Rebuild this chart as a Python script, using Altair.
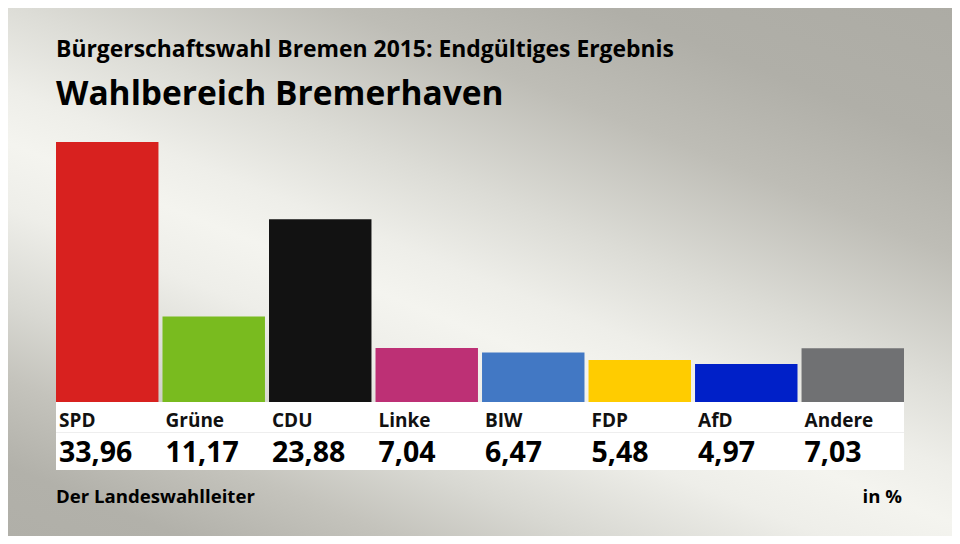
import altair as alt
import pandas as pd

parties = ["SPD", "Grüne", "CDU", "Linke", "BIW", "FDP", "AfD", "Andere"]
shares = [33.96, 11.17, 23.88, 7.04, 6.47, 5.48, 4.97, 7.03]
colors = ["#d8211f", "#79bb1f", "#121212", "#bd3075", "#4278c4", "#ffcc00", "#0020c8", "#707173"]
labels = [f"{v:.2f}".replace(".", ",") for v in shares]

subtitle = "Bürgerschaftswahl Bremen 2015: Endgültiges Ergebnis"
title = "Wahlbereich Bremerhaven"
source = "Der Landeswahlleiter"
unit = "in %"

W, H = 944, 528
FONT = "Open Sans"

df = pd.DataFrame({"party": parties, "share": shares, "color": colors, "label": labels})
one = pd.DataFrame({"a": [0]})

xscale = alt.Scale(range=[48, 896], paddingInner=0.038, paddingOuter=0)
yscale = alt.Scale(domain=[-17.50, 51.46], range=[H, 0], nice=False, zero=False)

bg = alt.Chart(one).mark_rect(
    color=alt.LinearGradient(
        gradient="linear",
        x1=0.9835, y1=-0.0575, x2=0.0165, y2=1.288,
        stops=[
            alt.GradientStop(offset=0.0, color="#acaba4"),
            alt.GradientStop(offset=0.15, color="#b0afa8"),
            alt.GradientStop(offset=0.25, color="#bebdb6"),
            alt.GradientStop(offset=0.37, color="#dcdcd6"),
            alt.GradientStop(offset=0.45, color="#eeeee9"),
            alt.GradientStop(offset=0.5, color="#f4f4ef"),
            alt.GradientStop(offset=0.56, color="#eeeee9"),
            alt.GradientStop(offset=0.65, color="#d8d8d2"),
            alt.GradientStop(offset=0.72, color="#c4c3bc"),
            alt.GradientStop(offset=0.8, color="#b2b1aa"),
            alt.GradientStop(offset=1.0, color="#acaba4"),
        ],
    )
).encode(x=alt.value(0), x2=alt.value(W), y=alt.value(0), y2=alt.value(H))

box = alt.Chart(one).mark_rect(color="white").encode(
    x=alt.value(48), x2=alt.value(896), y=alt.value(394), y2=alt.value(462)
)
sep = alt.Chart(one).mark_rule(color="#eeeeee", strokeWidth=1).encode(
    x=alt.value(48), x2=alt.value(896), y=alt.value(424.5)
)

bars = alt.Chart(df).mark_bar().encode(
    x=alt.X("party:N", sort=None, scale=xscale, axis=None),
    y=alt.Y("share:Q", scale=yscale, axis=None),
    color=alt.Color("color:N", scale=None),
)

names = alt.Chart(df).mark_text(
    align="left", baseline="alphabetic", dx=3, font=FONT, fontSize=19, fontWeight="bold", color="#111111"
).encode(
    x=alt.X("party:N", sort=None, scale=xscale, axis=None, bandPosition=0),
    y=alt.value(419),
    text="party:N",
)

vals = alt.Chart(df).mark_text(
    align="left", baseline="alphabetic", dx=3, font=FONT, fontSize=28.5, fontWeight="bold", color="#000000"
).encode(
    x=alt.X("party:N", sort=None, scale=xscale, axis=None, bandPosition=0),
    y=alt.value(454),
    text="label:N",
)

def txt(s, x, y, size, align="left"):
    return alt.Chart(one).mark_text(
        align=align, baseline="alphabetic", font=FONT, fontSize=size, fontWeight="bold", color="#000000"
    ).encode(x=alt.value(x), y=alt.value(y), text=alt.value(s))

chart = alt.layer(
    bg, box, sep, bars, names, vals,
    txt(subtitle, 48, 49, 22.9),
    txt(title, 48, 97, 33.5),
    txt(source, 48, 495, 18.6),
    txt(unit, 894, 495, 18.6, align="right"),
).properties(
    width=W, height=H, padding=0, autosize=alt.AutoSizeParams(type="none")
).configure_view(stroke=None)

chart.save("out.html", embed_options={"renderer": "svg", "actions": False})
